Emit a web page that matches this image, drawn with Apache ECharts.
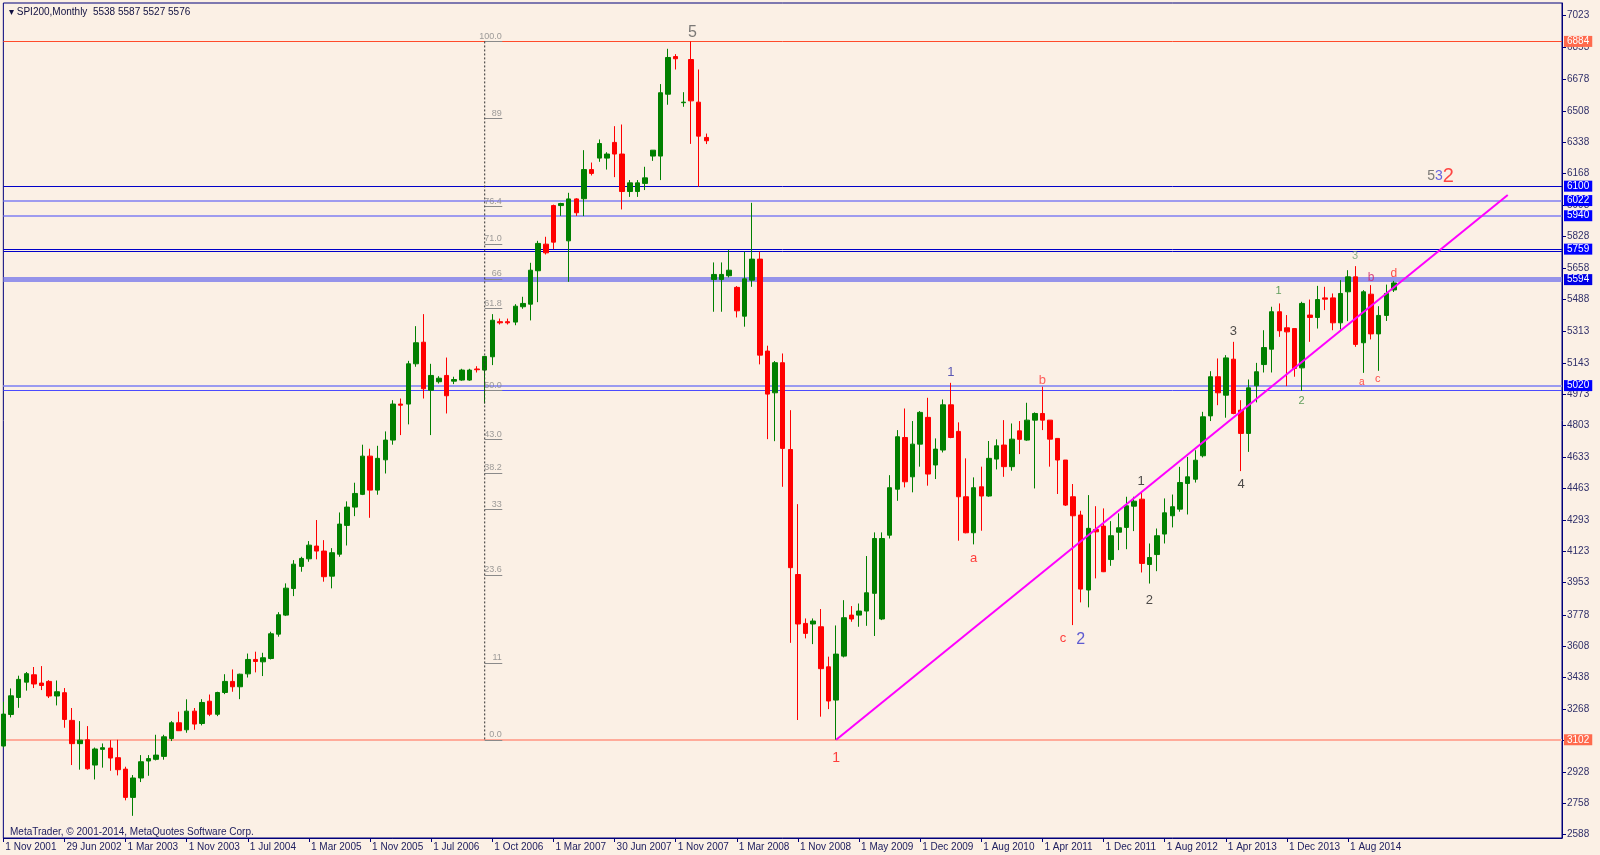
<!DOCTYPE html>
<html>
<head>
<meta charset="utf-8">
<script src="https://cdn.jsdelivr.net/npm/echarts@6/dist/echarts.min.js"></script>
<style>
html,body{margin:0;padding:0;background:#fbf0e5;}
#chart{width:1600px;height:855px;}
</style>
</head>
<body>
<div id="chart"></div>
<script>
// ---------- DATA ----------
const dateLabels = ['1 Nov 2001','29 Jun 2002','1 Mar 2003','1 Nov 2003','1 Jul 2004','1 Mar 2005','1 Nov 2005','1 Jul 2006','1 Oct 2006','1 Mar 2007','30 Jun 2007','1 Nov 2007','1 Mar 2008','1 Nov 2008','1 May 2009','1 Dec 2009','1 Aug 2010','1 Apr 2011','1 Dec 2011','1 Aug 2012','1 Apr 2013','1 Dec 2013','1 Aug 2014'];
const priceTicks = [7023,6853,6678,6508,6338,6168,5998,5828,5658,5488,5313,5143,4973,4803,4633,4463,4293,4123,3953,3778,3608,3438,3268,3098,2928,2758,2588];

const opens = [3068,3239,3331,3414,3454,3409,3418,3339,3357,3207, 3081,3102,2965,3050,3057,3005,2943,2790,2895,2987,
 2996,3012,3109,3194,3156,3257,3190,3311,3240,3358, 3418,3389,3459,3537,3524,3542,3674,3777,3921,4041,
 4082,4151,4124,3988,4107,4263,4362,4431,4638,4454, 4618,4725,4920,4920,5138,5255,4995,5041,5075,5044,
 5050,5050,5110,5104,5176,5366,5366,5364,5447,5461, 5642,5786,5995,5995,5804,6031,6032,6190,6252,6252,
 6337,6274,6071,6071,6115,6263,6263,6598,6802,6552, 6786,6555,6364,5595,5595,5615,5552,5396,5591,5705,
 5207,4981,5144,4674,3997,3732,3729,3714,3497,3317, 3555,3777,3777,3799,3895,3756,4210,4459,4739,4526,
 4703,4848,4590,4671,4916,4772,4418,4223,4472,4422, 4622,4698,4581,4775,4725,4833,4869,4833,4734,4617,
 4418,4319,3913,4241,4259,4078,4226,4252,4367,4405, 4051,4105,4216,4315,4351,4490,4513,4640,4856,5068,
 4968,5163,4887,4761,5019,5134,5217,5420,5333,5329, 5116,5402,5389,5495,5495,5360,5528,5609,5252,5515,
 5300,5400,5538];
const highs = [3308,3380,3449,3469,3496,3501,3425,3423,3382,3274, 3203,3176,3060,3082,3100,3102,2956,2911,3019,3019,
 3129,3129,3203,3254,3321,3274,3322,3347,3362,3457, 3483,3460,3569,3579,3573,3687,3793,3949,4075,4093,
 4178,4292,4183,4140,4333,4393,4494,4700,4678,4694, 4772,4941,4950,5154,5342,5407,5138,5071,5172,5068,
 5111,5111,5125,5180,5407,5383,5383,5461,5501,5685, 5804,5826,6000,6010,6064,6035,6295,6228,6353,6284,
 6425,6434,6133,6133,6205,6295,6653,6844,6815,6609, 6884,6732,6385,5687,5687,5754,5559,5745,6010,5745,
 5236,5153,5194,4887,4378,3759,3759,3810,3552,3721, 3858,3826,3840,4097,4225,4225,4535,4779,4896,4828,
 4882,4954,4734,4945,5035,4821,4626,4523,4581,4720, 4729,4833,4815,4828,4927,4875,5014,4833,4734,4617,
 4487,4342,4427,4367,4355,4286,4328,4418,4418,4439, 4165,4246,4409,4430,4580,4634,4670,4878,5098,5167,
 5185,5257,4941,5053,5143,5320,5447,5465,5402,5330, 5474,5486,5560,5555,5519,5591,5645,5667,5537,5564,
 5450,5567,5587];
const lows = [3060,3223,3275,3368,3382,3371,3328,3288,3167,2965, 2940,2940,2887,2951,2934,2909,2774,2690,2873,2907,
 2990,2994,3095,3150,3140,3156,3180,3230,3230,3349, 3362,3322,3439,3467,3447,3537,3660,3772,3880,4012,
 4066,4079,3958,3922,4093,4154,4313,4427,4304,4429, 4544,4700,4752,4810,5122,4950,4752,5031,4869,5028,
 5046,5046,5091,4923,5131,5351,5351,5347,5436,5373, 5472,5730,5759,5939,5582,5939,5938,6158,6232,6190,
 6149,5974,6042,6042,6079,6237,6133,6541,6732,6530, 6329,6097,6328,5420,5420,5606,5389,5339,5555,5135,
 4730,4719,4472,3627,3209,3651,3620,3227,3268,3102, 3548,3741,3714,3719,3664,3750,4192,4396,4469,4442,
 4581,4478,4514,4658,4735,4180,4220,4160,4234,4418, 4566,4526,4559,4649,4721,4463,4779,4581,4433,4368,
 3723,3846,3819,3976,4010,4044,4129,4134,4232,4008, 3948,4015,4165,4252,4337,4322,4495,4631,4828,4914,
 4846,4865,4557,4661,4929,5091,5091,5284,5017,5068, 4992,5257,5329,5429,5320,5324,5369,5230,5089,5270,
 5100,5370,5527];
const closes = [3241,3340,3429,3460,3404,3396,3339,3362,3212,3081, 3100,2945,3052,3059,3003,2940,2790,2895,2983,3000,
 3019,3118,3194,3151,3257,3187,3304,3240,3358,3418, 3389,3457,3537,3526,3546,3676,3779,3923,4053,4084,
 4156,4124,3985,4115,4270,4362,4436,4638,4454,4626, 4725,4920,4914,5138,5252,5003,5075,5060,4965,5053,
 5104,5104,5106,5178,5374,5360,5360,5450,5465,5645, 5790,5739,5797,6006,6031,5956,6190,6169,6331,6274,
 6274,6071,6118,6118,6145,6295,6606,6797,6790,6555, 6562,6371,6346,5622,5622,5645,5425,5598,5705,5185,
 4974,5144,4680,4034,3729,3678,3745,3487,3312,3566, 3763,3756,3799,3898,4192,4192,4467,4743,4499,4703,
 4875,4541,4676,4916,4739,4418,4223,4467,4422,4626, 4694,4581,4730,4729,4833,4869,4833,4730,4617,4373,
 4315,3918,4247,4228,4012,4207,4250,4369,4394,4057, 4089,4207,4331,4364,4495,4526,4616,4851,5068,4981,
 5170,4869,4761,5008,5095,5226,5420,5317,5311,5113, 5465,5389,5486,5488,5360,5519,5609,5243,5528,5300,
 5400,5519,5576];

// horizontal levels: value, colour kind, badge text
const hLevels   = [6884, 6100, 6022, 5940, 5759, 5750, 5594, 5020, 4994, 3102];
const hKinds    = ['red','dark','light','light','dark','dark','band','band2','blue','salmon'];
const hBadges   = ['6884','6100','6022','5940','5759','','5594','5020','',  '3102'];

// fibonacci retracement
const fibBar = 63, fibBarEnd = 65.3, fibHigh = 6884, fibLow = 3102;
const fibPcts   = [100, 89, 76.4, 71, 66, 61.8, 50, 43, 38.2, 33, 23.6, 11, 0];
const fibTexts  = ['100.0','89','76.4','71.0','66','61.8','50.0','43.0','38.2','33','23.6','11','0.0'];

// trend line (bar index, price)
const trendFrom = [109, 3102], trendTo = [196.9, 6052];

// wave labels: text, bar, price, colour, size
const waveText  = ['5','1','1','a','b','c','2','1','2','3','4','1','2','3','a','b','c','d'];
const waveBar   = [90.2,109,124,127,136,138.7,141,148.9,150,161,162,166.9,169.9,176.9,177.8,179,179.9,182];
const wavePrice = [6934,3003,5093,4086,5050,3653,3647,4503,3858,5315,4487,5531,4936,5721,5039,5607,5055,5624];
const waveColor = ['#5a5a5a','#ff1010','#3030a8','#ff1010','#ff3a3a','#ff1010','#3434cc','#202020','#202020','#202020','#202020','#3a8a3a','#3a8a3a','#70a070','#ff2020','#d0206a','#ff2020','#ff2020'];
const waveSize  = [16,14,13,13,13,13,16,13,13,13,13,11,11,11,10,12,11,12];

// ---------- BUILD ----------
const N = 205;
const categories = Array.from({length: N}, (_, i) => String(i));
const candles = opens.map((o, i) => [o, closes[i], lows[i], highs[i]]);

const kindStyle = {
  red:   {color:'#ff4a2a', width:1, badge:'#ff6a4d'},
  dark:  {color:'#0000c8', width:1, badge:'#0000ff'},
  light: {color:'#7f7ff2', width:1.5, badge:'#0000ff'},
  band:  {color:'rgba(130,130,235,0.85)', width:5, badge:'#0000e6'},
  band2: {color:'#9a9af0', width:2, badge:'#0000ff'},
  blue:  {color:'#4a4aff', width:1, badge:'#0000ff'},
  salmon:{color:'#ffab9a', width:2, badge:'#ff6a4d'}
};
const markData = hLevels.map((v, i) => {
  const s = kindStyle[hKinds[i]];
  return {
    yAxis: v,
    lineStyle: {color: s.color, width: s.width, type: 'solid', opacity: 1},
    label: hBadges[i] ? {
      show: true, position: 'end', distance: 2, formatter: hBadges[i],
      color: '#ffffff', backgroundColor: s.badge, fontSize: 10, fontFamily: 'Liberation Sans',
      padding: [1, 3, 0, 3], lineHeight: 10
    } : {show: false}
  };
});

const fibPrices = fibPcts.map(p => fibLow + (fibHigh - fibLow) * p / 100);

const chart = echarts.init(document.getElementById('chart'), null, {renderer: 'canvas'});
chart.setOption({
  animation: false,
  backgroundColor: '#fbf0e5',
  textStyle: {fontFamily: 'Liberation Sans'},
  title: [
    {text: '\u25BE SPI200,Monthly  5538 5587 5527 5576', left: 4, top: 2,
     textStyle: {fontSize: 10, fontWeight: 'normal', color: '#101040', fontFamily: 'Liberation Sans'}},
    {text: 'MetaTrader, \u00A9 2001-2014, MetaQuotes Software Corp.', left: 5, top: 822,
     textStyle: {fontSize: 10, fontWeight: 'normal', color: '#202060', fontFamily: 'Liberation Sans'}}
  ],
  grid: {left: 3.35, right: 38, top: 3, bottom: 17, show: true, borderColor: '#00007a', borderWidth: 1},
  xAxis: [
    {type: 'category', data: categories, boundaryGap: false,
     axisLine: {lineStyle: {color: '#00007a', width: 1}},
     axisTick: {show: true, length: 4, interval: (i) => i % 8 === 0 && i / 8 < dateLabels.length,
                lineStyle: {color: '#00007a'}},
     axisLabel: {interval: (i) => i % 8 === 0 && i / 8 < dateLabels.length,
                 formatter: (v, i) => (i % 8 === 0 && dateLabels[i / 8]) ? dateLabels[i / 8] : '',
                 align: 'left', padding: [0, 0, 0, 2], margin: 4, color: '#202060', fontSize: 10},
     splitLine: {show: false}},
    {type: 'value', min: 0, max: N - 1, show: false}
  ],
  yAxis: [{
    type: 'value', position: 'right', min: 2570, max: 7092, scale: true,
    splitLine: {show: false},
    axisLine: {show: true, onZero: false, lineStyle: {color: '#00007a'}},
    axisTick: {show: true, inside: false, length: 4, customValues: priceTicks, lineStyle: {color: '#00007a'}},
    axisLabel: {customValues: priceTicks, formatter: (v) => String(v), color: '#30306a', fontSize: 10, margin: 5}
  }],
  series: [
    {
      type: 'candlestick', xAxisIndex: 0, yAxisIndex: 0, data: candles, barWidth: 5,
      itemStyle: {color: '#008000', color0: '#ff0000', borderColor: '#008000', borderColor0: '#ff0000', borderWidth: 1},
      markLine: {symbol: ['none', 'none'], silent: true, animation: false, data: markData, z: 1}
    },
    {
      type: 'line', xAxisIndex: 1, yAxisIndex: 0, symbol: 'none', silent: true,
      data: [trendFrom, trendTo], lineStyle: {color: '#ff00ff', width: 2}, z: 5
    },
    {
      type: 'line', xAxisIndex: 1, yAxisIndex: 0, symbol: 'none', silent: true,
      data: [[fibBar, fibHigh], [fibBar, fibLow]], lineStyle: {color: '#303030', width: 1, type: [2, 2]}, z: 4
    },
    {
      type: 'lines', coordinateSystem: 'cartesian2d', xAxisIndex: 1, yAxisIndex: 0, silent: true,
      data: fibPrices.map(p => ({coords: [[fibBar, p], [fibBarEnd, p]]})),
      lineStyle: {color: '#8a8a8a', width: 1, opacity: 1}, z: 4
    },
    {
      type: 'scatter', xAxisIndex: 1, yAxisIndex: 0, silent: true, symbolSize: 1,
      itemStyle: {color: 'rgba(0,0,0,0)'},
      data: fibPrices.map((p, i) => ({value: [fibBarEnd, p], label: {formatter: fibTexts[i]}})),
      label: {show: true, position: 'insideBottomRight', distance: 1, color: '#858585', fontSize: 9}, z: 6
    },
    {
      type: 'scatter', xAxisIndex: 1, yAxisIndex: 0, silent: true, symbolSize: 1,
      itemStyle: {color: 'rgba(0,0,0,0)'},
      data: waveText.map((t, i) => ({value: [waveBar[i], wavePrice[i]],
        label: {formatter: t, color: waveColor[i], fontSize: waveSize[i]}})),
      label: {show: true, position: 'inside', fontFamily: 'Liberation Sans'}, z: 7
    },
    {
      type: 'scatter', xAxisIndex: 1, yAxisIndex: 0, silent: true, symbolSize: 1,
      itemStyle: {color: 'rgba(0,0,0,0)'},
      data: [{value: [188.1, 6154]}],
      label: {show: true, position: 'inside', formatter: '{a|5}{b|3}{c|2}',
        rich: {a: {color: '#5a5a5a', fontSize: 14}, b: {color: '#4040e0', fontSize: 14}, c: {color: '#ff1a1a', fontSize: 20}}},
      z: 7
    }
  ]
});
</script>
</body>
</html>
